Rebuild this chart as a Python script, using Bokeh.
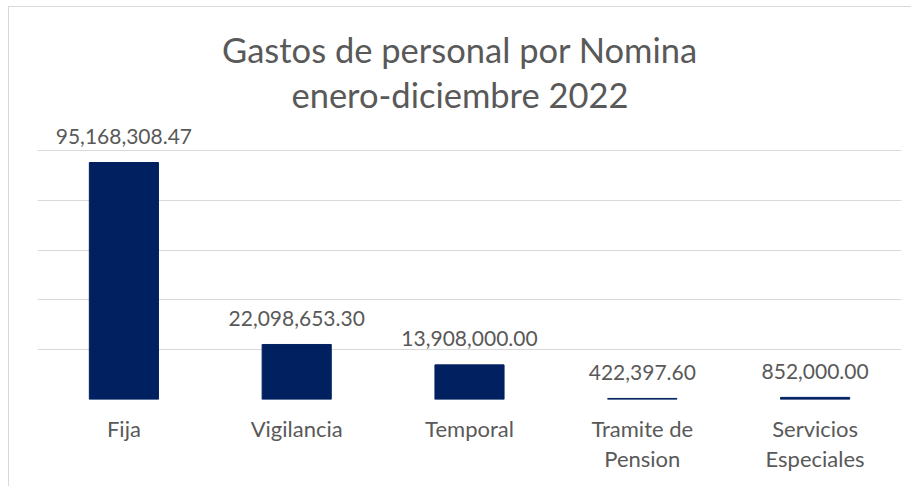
from bokeh.plotting import figure
from bokeh.models import ColumnDataSource, FixedTicker, FactorRange, Range1d
from bokeh.core.properties import value
from bokeh.embed import file_html
from bokeh.resources import INLINE

# ---- data ----
categories = ["Fija", "Vigilancia", "Temporal", "Tramite de\nPension", "Servicios\nEspeciales"]
amounts = [95168308.47, 22098653.30, 13908000.00, 422397.60, 852000.00]
y_ticks = [0, 20e6, 40e6, 60e6, 80e6, 100e6]
title_lines = ["Gastos de personal por Nomina", "enero-diciembre 2022"]

# ---- layout / style ----
W, H = 903, 480
BORDER_L, BORDER_R, BORDER_B = 28, 11, 88
FRAME_H = H - BORDER_B
PX_PER_100M = 249.0
Y_END = FRAME_H * 100e6 / PX_PER_100M
FONT = "Lato"
TXT = "#595959"
GRID = "#d9d9d9"
BAR = "#002060"


def px_above_base(px):
    return px * 100e6 / PX_PER_100M


src = ColumnDataSource(dict(
    cat=categories,
    amt=amounts,
    lbl=[f"{v:,.2f}" for v in amounts],
))

p = figure(
    width=W, height=H,
    x_range=FactorRange(*categories, range_padding=0),
    y_range=Range1d(0, Y_END),
    output_backend="svg", toolbar_location=None,
    min_border_left=BORDER_L, min_border_right=BORDER_R,
    min_border_top=0, min_border_bottom=BORDER_B,
    outline_line_color=None,
    background_fill_color="white", border_fill_color="white",
)
p.styles = {
    "margin-left": "8px", "margin-top": "6px",
    "border-left": "1px solid #d9d9d9", "border-top": "1px solid #d9d9d9",
}

p.vbar(x="cat", top="amt", width=0.4, source=src,
       fill_color=BAR, line_color=BAR, line_width=1)

p.text(x="cat", y="amt", text="lbl", source=src,
       text_font=value(FONT), text_font_size="21px", text_color=TXT,
       text_align="center", text_baseline="alphabetic", y_offset=-26)

# title lines
center_x = [(categories[2], -0.055)] * 2
p.text(x=center_x, y=[px_above_base(350), px_above_base(305)], text=title_lines,
       text_font=value(FONT), text_font_size="34.5px", text_color=TXT,
       text_align="center", text_baseline="alphabetic")

p.yaxis.visible = False
p.ygrid.ticker = FixedTicker(ticks=y_ticks)
p.ygrid.grid_line_color = GRID
p.ygrid.grid_line_width = 1
p.xgrid.grid_line_color = None

ax = p.xaxis[0]
ax.axis_line_color = None
ax.major_tick_line_color = None
ax.minor_tick_line_color = None
ax.major_label_standoff = 9
ax.major_label_text_font = FONT
ax.major_label_text_font_size = "22px"
ax.major_label_text_color = TXT
ax.major_label_text_line_height = 1.14

open("out.html", "w").write(file_html(p, INLINE))
